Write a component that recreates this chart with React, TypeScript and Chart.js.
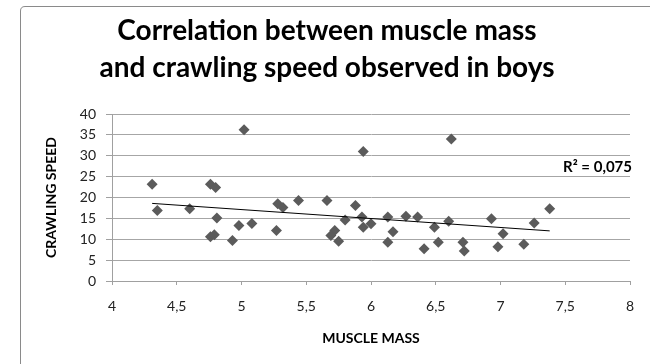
import { useEffect, useRef } from "react";
import { Chart, registerables } from "chart.js";

Chart.register(...registerables);

// Measurements: muscle mass (x) against crawling speed (y), one entry per boy
const muscleMass = [
  4.31, 4.35, 4.6, 4.76, 4.8, 4.81, 4.76, 4.79, 4.93, 4.98, 5.08, 5.02,
  5.27, 5.28, 5.32, 5.44, 5.66, 5.72, 5.69, 5.75, 5.8, 5.88, 5.93, 5.94,
  6.0, 5.94, 6.13, 6.13, 6.17, 6.27, 6.36, 6.41, 6.49, 6.52, 6.6, 6.71,
  6.72, 6.93, 6.98, 6.62, 7.02, 7.18, 7.26, 7.38,
];
const crawlingSpeed = [
  23.2, 16.9, 17.3, 23.2, 22.4, 15.1, 10.6, 11.1, 9.7, 13.3, 13.8, 36.2,
  12.1, 18.5, 17.6, 19.3, 19.3, 12.1, 10.9, 9.5, 14.6, 18.1, 15.3, 12.9,
  13.7, 31.0, 15.3, 9.3, 11.8, 15.5, 15.3, 7.7, 12.9, 9.3, 14.3, 9.3,
  7.2, 14.9, 8.2, 34.0, 11.3, 8.8, 13.9, 17.3,
];

const xMin = 4;
const xMax = 8;
const xStep = 0.5;
const yMin = 0;
const yMax = 40;
const yStep = 5;

const titleLines = [
  "Correlation between muscle mass",
  "and crawling speed observed in boys",
];
const xAxisTitle = "MUSCLE MASS";
const yAxisTitle = "CRAWLING SPEED";
const rSquared = 0.075;

const FONT = "Lato, 'Open Sans', sans-serif";
const MARK = "#5b5b5b";

// Least-squares fit of speed on mass, drawn across the range of the data
function linearFit(xs: number[], ys: number[]) {
  const n = xs.length;
  const mx = xs.reduce((a, b) => a + b, 0) / n;
  const my = ys.reduce((a, b) => a + b, 0) / n;
  let sxy = 0;
  let sxx = 0;
  for (let i = 0; i < n; i++) {
    sxy += (xs[i] - mx) * (ys[i] - my);
    sxx += (xs[i] - mx) * (xs[i] - mx);
  }
  const slope = sxy / sxx;
  const intercept = my - slope * mx;
  return (x: number) => intercept + slope * x;
}

const decimalComma = (v: number | string) => String(v).replace(".", ",");

const decorations = {
  id: "decorations",
  afterDraw(chart: any) {
    const { ctx, chartArea } = chart;
    ctx.save();

    // outer frame
    ctx.strokeStyle = "#8a8a8a";
    ctx.lineWidth = 1;
    ctx.beginPath();
    ctx.moveTo(20.5, 400);
    ctx.lineTo(20.5, 11);
    ctx.quadraticCurveTo(20.5, 6.5, 25, 6.5);
    ctx.lineTo(700, 6.5);
    ctx.stroke();

    ctx.fillStyle = "#000";
    ctx.textAlign = "center";
    ctx.textBaseline = "middle";

    // title
    ctx.font = `bold 28px ${FONT}`;
    ctx.fillText(titleLines[0], 327, 31);
    ctx.fillText(titleLines[1], 327, 68);

    // axis titles
    ctx.font = `bold 14px ${FONT}`;
    ctx.fillText(xAxisTitle, (chartArea.left + chartArea.right) / 2, chartArea.bottom + 57);
    ctx.save();
    ctx.translate(chartArea.left - 61, (chartArea.top + chartArea.bottom) / 2);
    ctx.rotate(-Math.PI / 2);
    ctx.fillText(yAxisTitle, 0, 0);
    ctx.restore();

    // goodness of fit
    ctx.font = `bold 15px ${FONT}`;
    ctx.textAlign = "right";
    ctx.fillText(`R² = ${decimalComma(rSquared.toFixed(3))}`, chartArea.right + 2, chartArea.top + 53.5);

    ctx.restore();
  },
};

export default function App() {
  const canvasRef = useRef<HTMLCanvasElement | null>(null);

  useEffect(() => {
    if (!canvasRef.current) return;
    const points = muscleMass.map((x, i) => ({ x, y: crawlingSpeed[i] }));
    const fit = linearFit(muscleMass, crawlingSpeed);
    const lo = Math.min(...muscleMass);
    const hi = Math.max(...muscleMass);

    const chart = new Chart(canvasRef.current, {
      type: "scatter",
      data: {
        datasets: [
          {
            type: "line",
            data: [
              { x: lo, y: fit(lo) },
              { x: hi, y: fit(hi) },
            ],
            borderColor: "#000",
            borderWidth: 1,
            pointRadius: 0,
            fill: false,
            order: 0,
          },
          {
            data: points,
            pointStyle: "rectRot",
            pointRadius: 5.5,
            backgroundColor: MARK,
            borderColor: MARK,
            borderWidth: 0,
            order: 1,
          },
        ],
      },
      options: {
        responsive: false,
        animation: false,
        events: [],
        layout: { padding: { top: 114, left: 0, right: 20, bottom: 43 } },
        plugins: {
          legend: { display: false },
          title: { display: false },
          tooltip: { enabled: false },
        },
        scales: {
          x: {
            type: "linear",
            min: xMin,
            max: xMax,
            afterFit: (s: any) => {
              s.height = 40;
            },
            border: { display: true, color: "#a0a0a0", width: 1 },
            grid: {
              drawOnChartArea: false,
              drawTicks: true,
              tickLength: 4,
              tickColor: "#a0a0a0",
            },
            ticks: {
              stepSize: xStep,
              padding: 13,
              color: "#222",
              font: { family: FONT, size: 14 },
              callback: (v: any) => decimalComma(v),
            },
          },
          y: {
            type: "linear",
            min: yMin,
            max: yMax,
            afterFit: (s: any) => {
              s.width = 112;
            },
            border: { display: true, color: "#a0a0a0", width: 1 },
            grid: {
              color: "#a6a6a6",
              lineWidth: 1,
              drawTicks: true,
              tickLength: 6,
              tickColor: "#a0a0a0",
            },
            ticks: {
              stepSize: yStep,
              padding: 10,
              color: "#222",
              font: { family: FONT, size: 14 },
              callback: (v: any) => decimalComma(v),
            },
          },
        },
      },
      plugins: [decorations],
    });

    return () => chart.destroy();
  }, []);

  return (
    <div style={{ position: "fixed", left: 0, top: 0, width: 650, height: 364, background: "#fff" }}>
      <canvas ref={canvasRef} width={650} height={364} style={{ display: "block" }} />
    </div>
  );
}
